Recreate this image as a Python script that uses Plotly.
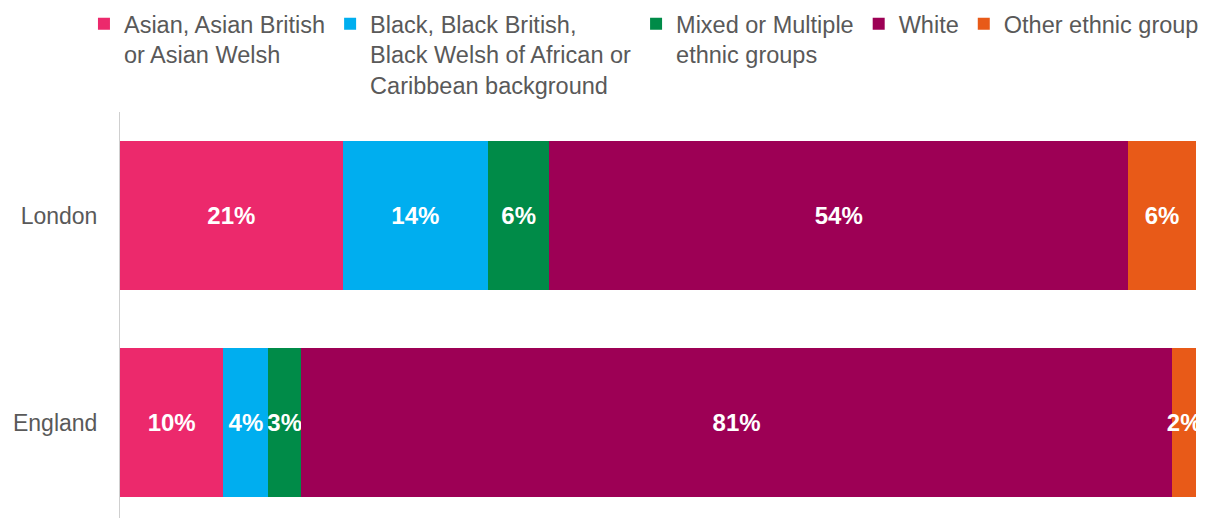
import plotly.graph_objects as go

regions = ["London", "England"]
series_names = [
    "Asian, Asian British<br>or Asian Welsh",
    "Black, Black British,<br>Black Welsh of African or<br>Caribbean background",
    "Mixed or Multiple<br>ethnic groups",
    "White",
    "Other ethnic group",
]
asian = [20.7, 9.6]
black = [13.5, 4.2]
mixed = [5.7, 3.0]
white = [53.8, 81.0]
other = [6.3, 2.2]
series_values = [asian, black, mixed, white, other]
colors = ["#EC296C", "#00AEEF", "#008B48", "#9D0055", "#E85A18"]

fig = go.Figure()
for name, vals, col in zip(series_names, series_values, colors):
    fig.add_trace(go.Bar(
        y=regions, x=vals, name=name, orientation="h",
        marker=dict(color=col, line=dict(width=0)),
        texttemplate="%{x:.0f}%", textposition="inside",
        insidetextanchor="middle", textangle=0, constraintext="none",
        textfont=dict(family="Liberation Sans, Arial", size=24, color="white", weight="bold"),
        cliponaxis=False, hoverinfo="skip",
    ))

fig.update_layout(
    barmode="stack", bargap=0.28,
    width=1216, height=518,
    margin=dict(l=112, r=28, t=104, b=8, pad=0, autoexpand=False),
    paper_bgcolor="white", plot_bgcolor="white",
    font=dict(family="Liberation Sans, Arial", size=23, color="#595959"),
    showlegend=True,
    legend=dict(
        orientation="h", xref="paper", yref="paper",
        x=-0.0335, y=1.271, xanchor="left", yanchor="top",
        traceorder="normal", valign="top",
        font=dict(family="Liberation Sans, Arial", size=23.5, color="#595959"),
        bgcolor="rgba(0,0,0,0)", itemclick=False,
    ),
    xaxis=dict(range=[0, 100], showgrid=False, zeroline=False, showticklabels=False,
               showline=False, fixedrange=True),
    yaxis=dict(type="category", categoryorder="array", categoryarray=regions,
               range=[1.461, -0.5], showgrid=False, zeroline=False,
               showline=True, linecolor="#CFCFCF", linewidth=1,
               ticks="", ticklabelstandoff=17,
               tickfont=dict(family="Liberation Sans, Arial", size=23, color="#595959")),
)

fig.write_html("out.html")
